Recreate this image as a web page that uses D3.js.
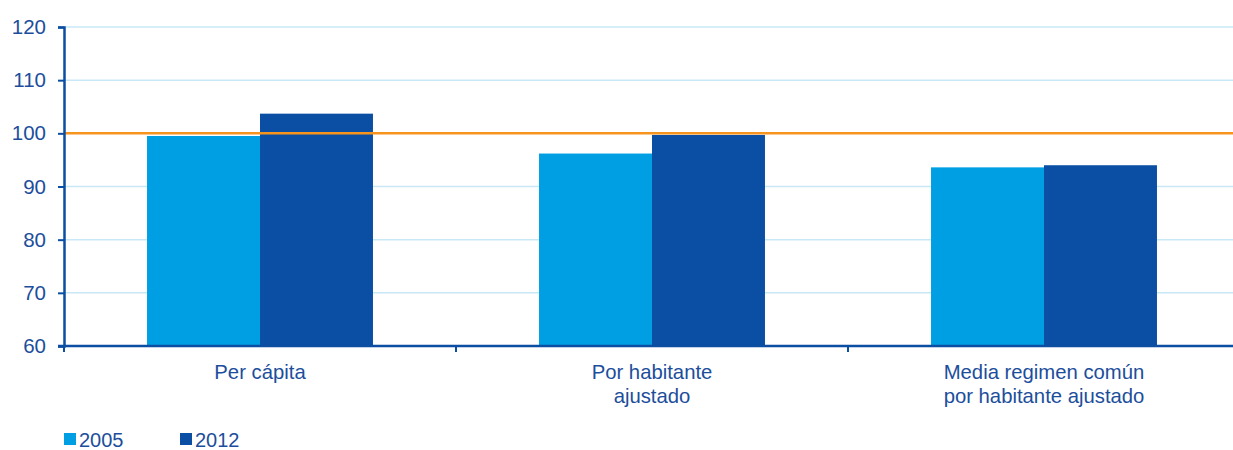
<!DOCTYPE html>
<html><head><meta charset="utf-8">
<script src="https://cdn.jsdelivr.net/npm/d3@7"></script>
<style>body{margin:0;background:#fff}svg{display:block;font-family:"Liberation Sans",Arial,sans-serif}</style>
</head><body><svg id="c" width="1233" height="450"></svg>
<script>
const categories = [["Per cápita"], ["Por habitante", "ajustado"], ["Media regimen común", "por habitante ajustado"]];
const series = ["2005", "2012"];
const values2005 = [99.5, 96.2, 93.6];
const values2012 = [103.7, 99.7, 94.0];
const yTicks = [60, 70, 80, 90, 100, 110, 120];
const refValue = 100;
const colors = ["#009FE3", "#0A4FA3"];

const svg = d3.select("#c");
const m = {l: 64, r: -7, t: 27, b: 104};
const W = 1233, H = 450;
const x = d3.scaleBand().domain(d3.range(categories.length)).range([m.l, W - m.r]).paddingInner(0).paddingOuter(0);
const y = d3.scaleLinear().domain([60, 120]).range([346, 27]);
const x1 = d3.scaleBand().domain(series).range([0, x.bandwidth()]).paddingInner(0).paddingOuter(0.735);

// gridlines
svg.append("g").selectAll("line").data(yTicks.filter(v => v !== 60)).join("line")
  .attr("x1", m.l).attr("x2", W).attr("y1", d => y(d)).attr("y2", d => y(d))
  .attr("stroke", "#c9e8f6").attr("stroke-width", 1.5);

// bars
const data = categories.map((c, i) => ({i, vals: [values2005[i], values2012[i]]}));
const g = svg.append("g").selectAll("g").data(data).join("g").attr("transform", d => `translate(${x(d.i)},0)`);
g.selectAll("rect").data(d => d.vals.map((v, k) => ({k, v}))).join("rect")
  .attr("x", d => x1(series[d.k])).attr("width", x1.bandwidth())
  .attr("y", d => y(d.v)).attr("height", d => y(60) - y(d.v))
  .attr("fill", d => colors[d.k]);

// reference line
svg.append("line").attr("x1", m.l).attr("x2", W).attr("y1", y(refValue)).attr("y2", y(refValue))
  .attr("stroke", "#F7941D").attr("stroke-width", 2.5);

// y axis
const ya = svg.append("g").attr("transform", `translate(${m.l},0)`)
  .call(d3.axisLeft(y).tickValues(yTicks).tickSize(6).tickPadding(12).tickFormat(d3.format("d")));
ya.select(".domain").attr("stroke", "#0B4EA2").attr("stroke-width", 2.5);
ya.selectAll(".tick line").attr("stroke", "#0B4EA2").attr("stroke-width", 2);
ya.selectAll(".tick text").attr("fill", "#1C4E9C").attr("font-size", 20.5).attr("font-family", "Liberation Sans, Arial, sans-serif");

// x axis
const xa = svg.append("g").attr("transform", `translate(0,${y(60)})`);
xa.append("line").attr("x1", m.l - 6).attr("x2", W).attr("stroke", "#0B4EA2").attr("stroke-width", 2.5);
const bounds = d3.range(categories.length + 1).map(i => m.l + i * x.bandwidth());
xa.selectAll(".xt").data(bounds).join("line").attr("class", "xt")
  .attr("x1", d => d).attr("x2", d => d).attr("y1", 0).attr("y2", 6)
  .attr("stroke", "#0B4EA2").attr("stroke-width", 2);
const lbl = xa.selectAll(".xl").data(categories).join("text").attr("class", "xl")
  .attr("text-anchor", "middle").attr("fill", "#1C4E9C").attr("font-size", 20.3)
  .attr("transform", (d, i) => `translate(${x(i) + x.bandwidth() / 2},33)`);
lbl.selectAll("tspan").data(d => d).join("tspan").attr("x", 0).attr("dy", (d, j) => j ? 24 : 0).text(d => d);

// legend
const lg = svg.append("g").attr("transform", "translate(64,433)");
const li = lg.selectAll("g").data(series).join("g").attr("transform", (d, i) => `translate(${i * 116},0)`);
li.append("rect").attr("width", 12).attr("height", 12).attr("fill", (d, i) => colors[i]);
li.append("text").attr("x", 15).attr("y", 13.5).attr("fill", "#1C4E9C").attr("font-size", 20).text(d => d);
</script></body></html>
